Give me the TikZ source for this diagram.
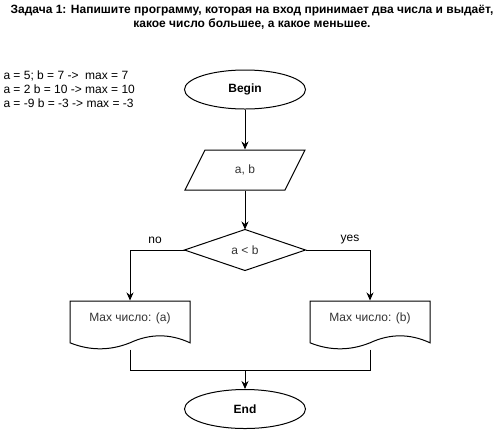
\documentclass[tikz,border=0pt]{standalone}
\usepackage{fontspec}
\setmainfont{Liberation Sans}
\usetikzlibrary{shapes.geometric,arrows.meta}
\definecolor{txtgray}{HTML}{333333}
\begin{document}
\begin{tikzpicture}[x=1pt,y=-1pt,line width=1pt,
  every node/.style={font=\fontsize{12}{14}\selectfont, inner sep=0pt},
  arr/.style={-{Stealth[length=8pt,width=7pt]}},
  term/.style={ellipse, draw, minimum width=121pt, minimum height=39pt},
  box/.style={minimum width=120pt, minimum height=40pt, text=txtgray},
  docbox/.style={minimum width=120pt, minimum height=48pt},
  doctext/.style={text=txtgray}]
\useasboundingbox (0,0) rectangle (502,432);
\fill[white] (0,0) rectangle (502,432);
% title
\node[font=\bfseries\fontsize{12}{14}\selectfont, align=center] (title) at (252,17)
  {Задача 1: Напишите программу, которая на вход принимает два числа и выдаёт,\\
   какое число большее, а какое меньшее.};
% examples
\node[anchor=west, align=left] (ex) at (3,89)
  {a = 5; b = 7 ->\ \ max = 7\\ a = 2 b = 10 -> max = 10\\ a = -9 b = -3 -> max = -3};
% begin
\node[term] (begin) at (245,89.5) {\bfseries Begin};
% input
\node[box] (in) at (245,170) {a, b};
\draw (185,190) -- (285,190) -- (305,150) -- (205,150) -- cycle;
% decision
\node[box] (dec) at (245,250) {a < b};
\draw (dec.west) -- (dec.north) -- (dec.east) -- (dec.south) -- cycle;
\node (no) at (155,240) {no};
\node (yes) at (350,240) {yes};
% documents
\node[docbox] (docL) at (130,325) {};
\node[doctext] (docLt) at (130,318) {Max число: (a)};
\draw (70,301) -- (190,301) -- (190,342.8)
  .. controls (170,333.5) and (150,333.5) .. (130,342.8)
  .. controls (110,350.8) and (90,350.8) .. (70,342.8) -- cycle;
\node[docbox] (docR) at (370,325) {};
\node[doctext] (docRt) at (370,318) {Max число: (b)};
\draw (310,301) -- (430,301) -- (430,342.8)
  .. controls (410,333.5) and (390,333.5) .. (370,342.8)
  .. controls (350,350.8) and (330,350.8) .. (310,342.8) -- cycle;
% end
\node[term] (end) at (245,409) {\bfseries End};
% connectors
\draw[arr] (begin) -- (in.north);
\draw[arr] (in.south) -- (dec.north);
\draw[arr] (dec.west) -| (docL.north);
\draw[arr] (dec.east) -| (docR.north);
\coordinate (m) at (245,370);
\draw (docL.south) |- (m);
\draw (docR.south) |- (m);
\draw[arr] (m) -- (end);
\end{tikzpicture}
\end{document}
